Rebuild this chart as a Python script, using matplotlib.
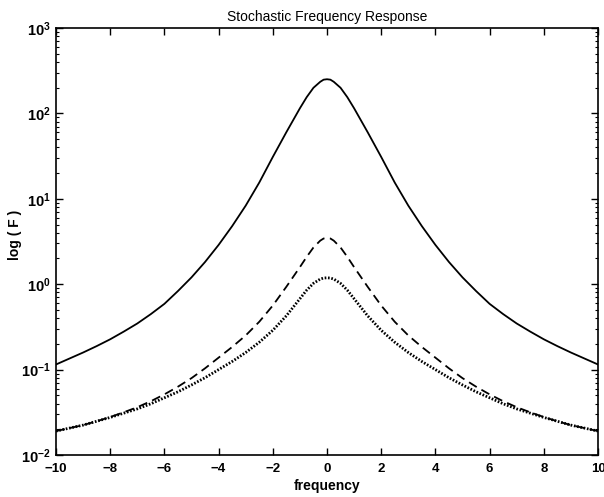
import numpy as np
import matplotlib
matplotlib.use("Agg")
import matplotlib.pyplot as plt
from matplotlib.ticker import LogLocator, FixedLocator, NullFormatter

# frequency sample points of the left half (right half is the mirror image)
freq_left = [-10, -9.5, -9, -8.5, -8, -7.5, -7, -6.5, -6, -5.5, -5, -4.5, -4, -3.5, -3, -2.5,
             -2, -1.5, -1, -0.75, -0.5, -0.25, -0.125, 0]

# log10 values
solid_log_left = [-0.94, -0.87, -0.80, -0.725, -0.645, -0.555, -0.46, -0.35, -0.23, -0.08,
                  0.08, 0.26, 0.46, 0.68, 0.92, 1.19, 1.49, 1.78, 2.06, 2.19, 2.30, 2.37, 2.395, 2.40]
dashed_log_left = [-1.72, -1.685, -1.65, -1.605, -1.555, -1.50, -1.44, -1.37, -1.29, -1.20,
                   -1.10, -0.985, -0.86, -0.735, -0.60, -0.44, -0.25, -0.03, 0.20, 0.32, 0.43, 0.51, 0.535, 0.54]
dotted_log_left = [-1.72, -1.685, -1.65, -1.605, -1.56, -1.51, -1.46, -1.40, -1.33, -1.26,
                   -1.18, -1.095, -1.00, -0.905, -0.80, -0.68, -0.54, -0.37, -0.17, -0.07, 0.01, 0.06, 0.072, 0.075]

xticks = [-10, -8, -6, -4, -2, 0, 2, 4, 6, 8, 10]
title = "Stochastic Frequency Response"
xlabel = "frequency"
ylabel = "log ( F )"


def mirror(v, neg=False):
    rest = v[-2::-1]
    if neg:
        rest = [-r for r in rest]
    return list(v) + rest


freq = np.array(mirror(freq_left, neg=True))
solid = 10 ** np.array(mirror(solid_log_left))
dashed = 10 ** np.array(mirror(dashed_log_left))
dotted = 10 ** np.array(mirror(dotted_log_left))

plt.rcParams['font.family'] = ['Liberation Sans', 'DejaVu Sans']
plt.rcParams['font.weight'] = 'bold'
plt.rcParams['mathtext.fontset'] = 'custom'
plt.rcParams['mathtext.rm'] = 'Liberation Sans:bold'
plt.rcParams['mathtext.it'] = 'Liberation Sans:bold'
plt.rcParams['mathtext.bf'] = 'Liberation Sans:bold'

fig = plt.figure(figsize=(6.04, 4.97), dpi=100)
ax = fig.add_axes([56/604, 1-455/497, (598-56)/604, (455-28)/497])

ax.plot(freq, solid, color='black', lw=1.3, ls='-')
ax.plot(freq, dashed, color='black', lw=1.3, ls=(0, (5, 3)))
ax.plot(freq, dotted, color='black', lw=2.0, ls=(0, (0.6, 0.6)))

ax.set_yscale('log')
ax.set_xlim(-10, 10)
ax.set_ylim(1e-2, 1e3)
ax.xaxis.set_major_locator(FixedLocator(xticks))
ax.yaxis.set_major_locator(LogLocator(base=10, numticks=10))
ax.yaxis.set_minor_locator(LogLocator(base=10, subs=np.arange(2, 10), numticks=20))
ax.yaxis.set_minor_formatter(NullFormatter())

ax.tick_params(which='both', direction='in', top=True, right=True)
ax.tick_params(which='major', length=5, width=1)
ax.tick_params(which='minor', length=2.5, width=0.8)
ax.tick_params(axis='x', labelsize=9.5, pad=5.5)
ax.tick_params(axis='y', labelsize=10.5, pad=4)

for s in ax.spines.values():
    s.set_linewidth(1.2)

ax.set_title(title, fontsize=10, pad=5, fontweight='normal')
ax.set_xlabel(xlabel, fontsize=10, fontweight='bold', labelpad=3)
ax.set_ylabel(ylabel, fontsize=10, fontweight='bold')
ax.yaxis.set_label_coords(-0.062, 0.515)

fig.savefig('out.png', dpi=100)
